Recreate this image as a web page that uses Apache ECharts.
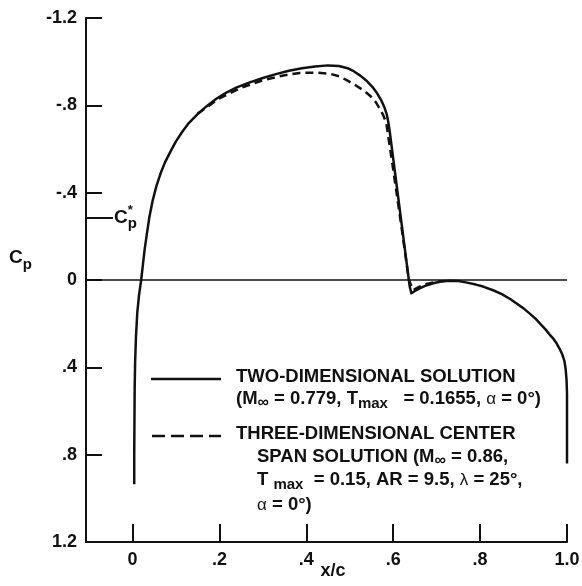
<!DOCTYPE html>
<html>
<head>
<meta charset="utf-8">
<script src="https://cdn.jsdelivr.net/npm/echarts@6/dist/echarts.min.js"></script>
<style>
  html, body { margin: 0; padding: 0; background: #fff; }
  #chart { width: 582px; height: 586px; }
</style>
</head>
<body>
<div id="chart"></div>
<script>
// ---- data ----
const xTicks = [0, 0.2, 0.4, 0.6, 0.8, 1.0];
const xTickLabels = ['0', '.2', '.4', '.6', '.8', '1.0'];
const yTicks = [-1.2, -0.8, -0.4, 0, 0.4, 0.8, 1.2];
const yTickLabels = ['-1.2', '-.8', '-.4', '0', '.4', '.8', '1.2'];
const cpStar = -0.286;

// two-dimensional solution: x/c and Cp
const twoDimX = [0.004, 0.004, 0.0045, 0.005, 0.006, 0.008, 0.011, 0.015, 0.020, 0.024, 0.028, 0.033,
  0.039, 0.046, 0.055, 0.065, 0.075, 0.088, 0.100, 0.115, 0.130, 0.150, 0.170, 0.193, 0.215, 0.240,
  0.270, 0.300, 0.330, 0.360, 0.390, 0.420, 0.450, 0.475, 0.495, 0.510, 0.525, 0.540, 0.552, 0.563,
  0.572, 0.579, 0.585, 0.589, 0.592, 0.638, 0.642, 0.650, 0.661, 0.676, 0.692, 0.710, 0.730, 0.750,
  0.770, 0.790, 0.807, 0.830, 0.850, 0.870, 0.884, 0.900, 0.915, 0.928, 0.938, 0.950, 0.960, 0.969,
  0.976, 0.983, 0.989, 0.994, 0.997, 0.999, 1.000, 1.000];
const twoDimCp = [0.935, 0.800, 0.650, 0.500, 0.380, 0.260, 0.150, 0.070, 0.000, -0.070, -0.140, -0.210,
  -0.290, -0.360, -0.430, -0.490, -0.540, -0.590, -0.635, -0.680, -0.720, -0.760, -0.795, -0.830, -0.857, -0.882,
  -0.905, -0.925, -0.943, -0.958, -0.970, -0.978, -0.983, -0.980, -0.970, -0.955, -0.935, -0.910, -0.885, -0.855,
  -0.825, -0.795, -0.760, -0.720, -0.680, 0.030, 0.061, 0.050, 0.038, 0.025, 0.015, 0.007, 0.003, 0.005,
  0.012, 0.021, 0.030, 0.047, 0.065, 0.088, 0.108, 0.130, 0.155, 0.178, 0.200, 0.225, 0.250, 0.270,
  0.290, 0.315, 0.340, 0.370, 0.410, 0.460, 0.520, 0.840];

// three-dimensional center span solution: x/c and Cp
const threeDimX = [0.150, 0.200, 0.250, 0.300, 0.350, 0.385, 0.420, 0.454, 0.477, 0.495, 0.515, 0.532,
  0.548, 0.560, 0.569, 0.577, 0.584, 0.590, 0.596, 0.607, 0.620, 0.636, 0.646, 0.655, 0.665, 0.677,
  0.690, 0.705, 0.720];
const threeDimCp = [-0.762, -0.832, -0.880, -0.915, -0.938, -0.948, -0.950, -0.945, -0.932, -0.913, -0.890, -0.868,
  -0.842, -0.815, -0.785, -0.755, -0.720, -0.640, -0.560, -0.410, -0.230, 0.000, 0.046, 0.036, 0.026, 0.018,
  0.012, 0.007, 0.004];

const twoDim = twoDimX.map((x, i) => [x, twoDimCp[i]]);
const threeDim = threeDimX.map((x, i) => [x, threeDimCp[i]]);

const INK = '#111';
const FONT = "'Liberation Sans', Arial, Helvetica, sans-serif";

function lookup(ticks, labels, v) {
  for (let i = 0; i < ticks.length; i++) if (Math.abs(ticks[i] - v) < 1e-6) return labels[i];
  return '';
}

const richMain = { fontSize: 18.5, fontWeight: 'bold', fontFamily: FONT, color: INK, lineHeight: 24 };
const legendRich = {
  a: richMain,
  g: { fontSize: 17, fontWeight: 'normal', fontFamily: FONT, color: INK, lineHeight: 24 },
  inf: { fontSize: 16, fontWeight: 'bold', fontFamily: FONT, color: INK, lineHeight: 14, verticalAlign: 'bottom' },
  m: { fontSize: 15, fontWeight: 'bold', fontFamily: FONT, color: INK, lineHeight: 15, verticalAlign: 'bottom' },
  m2: { fontSize: 15, fontWeight: 'bold', fontFamily: FONT, color: INK, lineHeight: 10, verticalAlign: 'bottom' }
};
const cpRich = {
  c: { fontSize: 19, fontWeight: 'bold', fontFamily: FONT, color: INK, lineHeight: 28 },
  s: { fontSize: 15, fontWeight: 'bold', fontFamily: FONT, color: INK, lineHeight: 12, verticalAlign: 'bottom' },
  t: { fontSize: 13, fontWeight: 'bold', fontFamily: FONT, color: INK, lineHeight: 10, verticalAlign: 'top', width: 0 }
};

function legendText(x, y, text) {
  return {
    type: 'text', x: x, y: y, silent: true,
    style: { text: text, rich: legendRich, verticalAlign: 'middle', align: 'left',
             fontSize: 18.5, fontWeight: 'bold', fontFamily: FONT, fill: INK }
  };
}

const chart = echarts.init(document.getElementById('chart'), null, { renderer: 'canvas' });
chart.setOption({
  backgroundColor: '#fff',
  animation: false,
  grid: { left: 86, right: 15, top: 18, bottom: 44, containLabel: false, outerBoundsMode: 'none' },
  xAxis: {
    type: 'value', min: -0.107, max: 1.0,
    name: 'x/c', nameLocation: 'middle', nameGap: 20, nameMoveOverlap: false,
    nameTextStyle: { fontSize: 18, fontWeight: 'bold', fontFamily: FONT, color: INK, padding: [0, 0, 0, 13] },
    axisLine: { onZero: false, lineStyle: { color: INK, width: 2 } },
    axisTick: { customValues: xTicks, inside: true, length: 18, lineStyle: { color: INK, width: 2 } },
    axisLabel: { customValues: xTicks, margin: 9, fontSize: 18, fontWeight: 'bold', fontFamily: FONT, color: INK,
                 formatter: v => lookup(xTicks, xTickLabels, v) },
    splitLine: { show: false }
  },
  yAxis: {
    type: 'value', inverse: true, min: -1.2, max: 1.2, interval: 0.4,
    name: '{c|C}{s|p}', nameLocation: 'middle', nameRotate: 0, nameGap: 54, nameMoveOverlap: false,
    nameTextStyle: { padding: [0, 0, 44, 0], rich: cpRich },
    axisLine: { onZero: false, lineStyle: { color: INK, width: 2 } },
    axisTick: { inside: true, length: 16, lineStyle: { color: INK, width: 2 } },
    axisLabel: { margin: 9, fontSize: 18, fontWeight: 'bold', fontFamily: FONT, color: INK,
                 formatter: v => lookup(yTicks, yTickLabels, v) },
    splitLine: { show: false }
  },
  series: [
    {
      name: 'TWO-DIMENSIONAL SOLUTION', type: 'line', data: twoDim, symbol: 'none', smooth: false,
      lineStyle: { color: INK, width: 2.5, join: 'round' }, z: 3,
      markLine: {
        silent: true, symbol: ['none', 'none'], animation: false,
        data: [
          { yAxis: 0, lineStyle: { color: INK, width: 1.6, type: 'solid' }, label: { show: false } },
          [
            { coord: [-0.107, cpStar], lineStyle: { color: INK, width: 2, type: 'solid' } },
            { coord: [-0.045, cpStar],
              label: { show: true, position: 'end', distance: 1, formatter: '{c|C}{t|*}{s|p}', rich: cpRich } }
          ]
        ]
      }
    },
    {
      name: 'THREE-DIMENSIONAL CENTER SPAN SOLUTION', type: 'line', data: threeDim, symbol: 'none', smooth: false,
      lineStyle: { color: INK, width: 2.5, type: [8, 5] }, z: 2
    }
  ],
  graphic: [
    { type: 'line', silent: true, shape: { x1: 151, y1: 379, x2: 221, y2: 379 }, style: { stroke: INK, lineWidth: 2.5 } },
    { type: 'line', silent: true, shape: { x1: 152, y1: 436, x2: 221, y2: 436 }, style: { stroke: INK, lineWidth: 2.5, lineDash: [13, 6] } },
    legendText(236, 377, '{a|TWO-DIMENSIONAL SOLUTION}'),
    legendText(236, 399, '{a|(M}{inf|∞}{a| = 0.779, T}{m|max}{a|   = 0.1655, }{g|α}{a| = 0°)}'),
    legendText(236, 434, '{a|THREE-DIMENSIONAL CENTER}'),
    legendText(257, 457, '{a|SPAN SOLUTION (M}{inf|∞}{a| = 0.86,}'),
    legendText(257, 480, '{a|T }{m2|max}{a|  = 0.15, AR = 9.5, }{g|λ}{a| = 25°,}'),
    legendText(257, 505, '{g|α}{a| = 0°)}')
  ]
});
</script>
</body>
</html>
